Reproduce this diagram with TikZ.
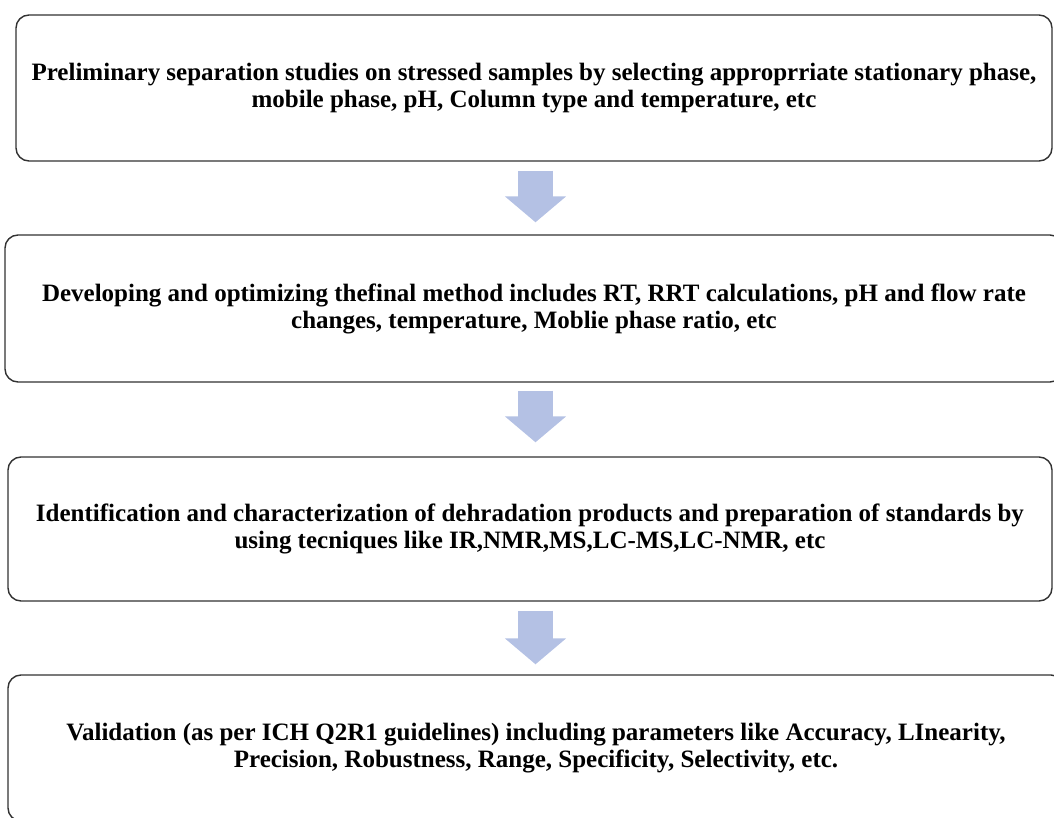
\documentclass[tikz,border=0pt]{standalone}
\usepackage{fontspec}
\setmainfont{Liberation Serif}
\usetikzlibrary{arrows.meta,calc}
\definecolor{arrowblue}{RGB}{180,193,228}
\definecolor{boxline}{RGB}{50,50,50}
\tikzset{
  stepbox/.style={draw=boxline, line width=1.4pt, rounded corners=13pt, fill=white,
    inner sep=0pt, align=center, font=\fontsize{25}{27}\selectfont\bfseries},
  blockarrow/.style={draw=arrowblue, line width=35pt,
    -{Triangle[width=60pt,length=26pt]}, arrowblue}
}
\begin{document}
\begin{tikzpicture}[x=1pt,y=-1pt]
\useasboundingbox (0,0) rectangle (1054,818);
\clip (0,0) rectangle (1054,818);
\coordinate (ax) at (535.5,0);
\node[stepbox, minimum width=1036pt, minimum height=146pt] (b1) at (534,88)
  {Preliminary separation studies on stressed samples by selecting approprriate stationary phase,\\
   mobile phase, pH, Column type and temperature, etc};
\node[stepbox, minimum width=1058pt, minimum height=147pt] (b2) at (534,308.5)
  {Developing and optimizing thefinal method includes RT, RRT calculations, pH and flow rate\\
   changes, temperature, Moblie phase ratio, etc};
\node[stepbox, minimum width=1044pt, minimum height=144pt] (b3) at (530,529)
  {Identification and characterization of dehradation products and preparation of standards by\\
   using tecniques like IR,NMR,MS,LC-MS,LC-NMR, etc};
\node[stepbox, minimum width=1056pt, minimum height=146pt] (b4) at (536,748)
  {Validation (as per ICH Q2R1 guidelines) including parameters like Accuracy, LInearity,\\
   Precision, Robustness, Range, Specificity, Selectivity, etc.};
\draw[blockarrow] ($(b1.south -| ax)+(0,9)$) -- ($(b2.north -| ax)+(0,-12)$);
\draw[blockarrow] ($(b2.south -| ax)+(0,8)$) -- ($(b3.north -| ax)+(0,-14)$);
\draw[blockarrow] ($(b3.south -| ax)+(0,9)$) -- ($(b4.north -| ax)+(0,-10)$);
\end{tikzpicture}
\end{document}
